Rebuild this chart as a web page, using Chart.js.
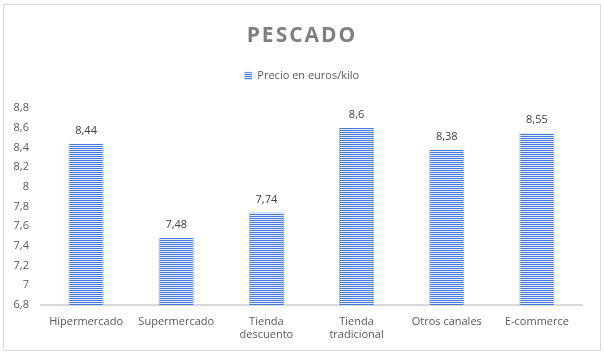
<!DOCTYPE html>
<html>
<head>
<meta charset="utf-8">
<script src="https://cdn.jsdelivr.net/npm/chart.js@4.4.1/dist/chart.umd.min.js"></script>
<style>
html,body{margin:0;padding:0;background:#fff;}
#wrap{position:relative;width:604px;height:356px;overflow:hidden;}
#frame{position:absolute;left:3px;top:4px;width:598px;height:347px;border:1px solid #d9d9d9;box-sizing:border-box;}
#c{position:absolute;left:0;top:0;}
</style>
</head>
<body>
<div id="wrap"><div id="frame"></div><canvas id="c" width="604" height="356"></canvas></div>
<script>
// ---- data ----
const chartTitle = 'PESCADO';
const seriesName = 'Precio en euros/kilo';
const categories = [
  'Hipermercado',
  'Supermercado',
  ['Tienda', 'descuento'],
  ['Tienda', 'tradicional'],
  'Otros canales',
  'E-commerce'
];
const values = [8.44, 7.48, 7.74, 8.6, 8.38, 8.55];
const yMin = 6.8;
const yMax = 8.8;
const yStep = 0.2;

// ---- helpers ----
function fmt(v) {
  return String(Math.round(v * 100) / 100).replace('.', ',');
}

function makeStripePattern() {
  const pc = document.createElement('canvas');
  pc.width = 4; pc.height = 2;
  const p = pc.getContext('2d');
  p.fillStyle = '#4279d6';
  p.fillRect(0, 0, 4, 1);
  p.fillStyle = '#e6eefa';
  p.fillRect(0, 1, 4, 1);
  return document.getElementById('c').getContext('2d').createPattern(pc, 'repeat');
}
const stripes = makeStripePattern();

Chart.defaults.font.family = '"Open Sans", sans-serif';
Chart.defaults.font.size = 11;
Chart.defaults.color = '#595959';

const tweaks = {
  id: 'tweaks',
  beforeLayout(chart) {
    const lg = chart.legend;
    if (lg && !lg._padWrapped) {
      const f = lg.fit;
      lg.fit = function () { f.call(this); this.height += 17; };
      lg._padWrapped = true;
    }
    const tb = chart.titleBlock;
    if (tb && !tb._lsWrapped) {
      const d = tb.draw;
      tb.draw = function () {
        const ctx = this.ctx;
        ctx.save();
        ctx.letterSpacing = '2px';
        d.apply(this, arguments);
        ctx.restore();
      };
      tb._lsWrapped = true;
    }
  }
};

const valueLabels = {
  id: 'valueLabels',
  afterDatasetsDraw(chart) {
    const ctx = chart.ctx;
    const meta = chart.getDatasetMeta(0);
    const data = chart.data.datasets[0].data;
    ctx.save();
    ctx.font = '11px "Open Sans", sans-serif';
    ctx.fillStyle = '#404040';
    ctx.textAlign = 'center';
    ctx.textBaseline = 'middle';
    meta.data.forEach((bar, i) => {
      ctx.fillText(fmt(data[i]), bar.x, bar.y - 13);
    });
    ctx.restore();
  }
};

new Chart(document.getElementById('c'), {
  type: 'bar',
  data: {
    labels: categories,
    datasets: [{
      label: seriesName,
      data: values,
      backgroundColor: stripes,
      borderColor: 'rgba(66,121,214,0.55)',
      borderWidth: { left: 1, right: 1, top: 0, bottom: 0 },
      borderSkipped: false,
      barPercentage: 0.39,
      categoryPercentage: 1.0
    }]
  },
  options: {
    responsive: false,
    animation: false,
    devicePixelRatio: 1,
    layout: { padding: { top: 0, left: 0, right: 0, bottom: 4 } },
    plugins: {
      title: {
        display: true,
        text: chartTitle,
        color: '#7f7f7f',
        font: { size: 21, weight: 'bold' },
        padding: { top: 23, bottom: 12 }
      },
      legend: {
        display: true,
        position: 'top',
        labels: {
          boxWidth: 7,
          boxHeight: 7,
          padding: 10,
          color: '#595959',
          font: { size: 11 }
        }
      },
      tooltip: { enabled: false }
    },
    scales: {
      x: {
        grid: { display: false, drawTicks: false },
        border: { display: true, color: '#d9d9d9', width: 2 },
        ticks: { padding: 10, maxRotation: 0, autoSkip: false, color: '#595959', font: { size: 11 } },
        afterFit(s) { s.height = 47; s.paddingRight = 22; }
      },
      y: {
        min: yMin,
        max: yMax,
        grid: { display: false, drawTicks: false },
        border: { display: false },
        ticks: {
          stepSize: yStep,
          padding: 12,
          color: '#595959',
          font: { size: 11 },
          callback: (v) => fmt(v)
        },
        afterFit(s) { s.width = 41; }
      }
    }
  },
  plugins: [tweaks, valueLabels]
});
</script>
</body>
</html>
